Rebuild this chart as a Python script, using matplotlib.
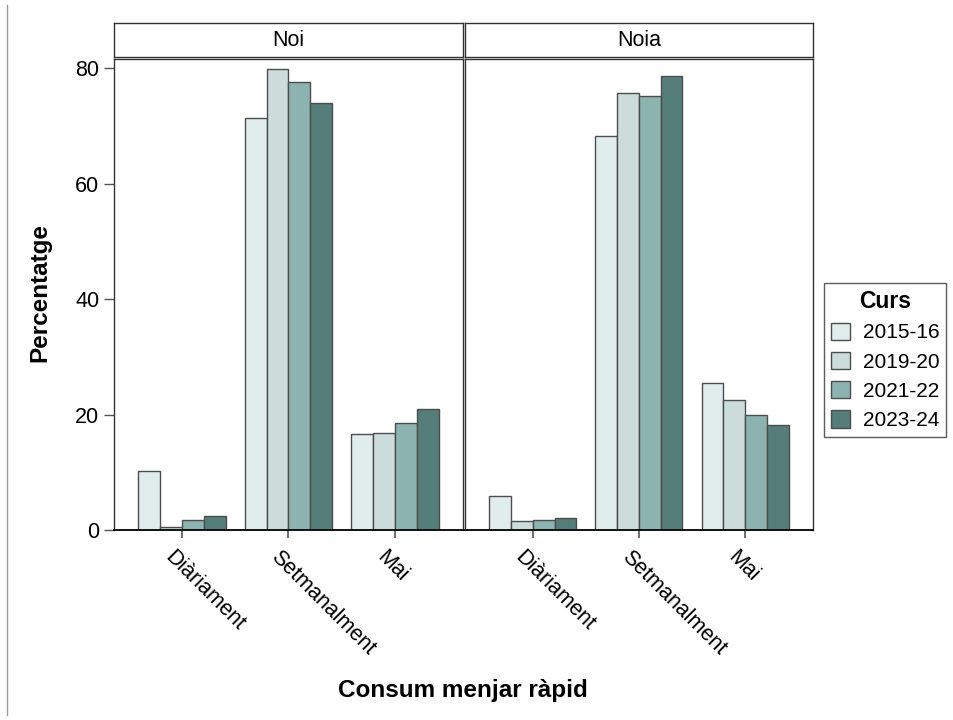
import numpy as np
import matplotlib
matplotlib.use('Agg')
import matplotlib.pyplot as plt
import matplotlib.transforms as mtransforms
from matplotlib.patches import Patch
from matplotlib.lines import Line2D

plt.rcParams['font.family'] = ['Liberation Sans', 'DejaVu Sans']

categories = ['Diàriament', 'Setmanalment', 'Mai']
courses = ['2015-16', '2019-20', '2021-22', '2023-24']
colors = ['#e1eded', '#cbdcdb', '#8db3b0', '#557d7a']
panels = ['Noi', 'Noia']

# percentages per course, order of categories
noi = {
    '2015-16': [10.3, 71.3, 16.6],
    '2019-20': [0.6, 79.8, 16.8],
    '2021-22': [1.7, 77.5, 18.5],
    '2023-24': [2.5, 74.0, 21.0],
}
noia = {
    '2015-16': [5.9, 68.3, 25.5],
    '2019-20': [1.5, 75.7, 22.5],
    '2021-22': [1.8, 75.1, 19.9],
    '2023-24': [2.0, 78.7, 18.2],
}
data = [noi, noia]

fig = plt.figure(figsize=(9.54, 7.2), dpi=100)

W, H = 954, 720
def px(x0, y0, x1, y1):
    return [x0 / W, 1 - y1 / H, (x1 - x0) / W, (y1 - y0) / H]

panel_px = [(114, 463), (465, 813)]
x = np.arange(len(categories))
bw = 0.205
# label anchor: a bit left of the tick and below it
shift = mtransforms.ScaledTranslation(-7 / 100, -17 / 100, fig.dpi_scale_trans)

for i, (name, d) in enumerate(zip(panels, data)):
    x0, x1 = panel_px[i]
    ax = fig.add_axes(px(x0, 59, x1, 530))
    for j, c in enumerate(courses):
        ax.bar(x + (j - 1.5) * bw, d[c], bw, color=colors[j],
               edgecolor='#4d4d4d', linewidth=1.0, zorder=2)
    ax.set_xlim(-0.64, 2.64)
    ax.set_ylim(0, 81.56)
    ax.set_yticks([0, 20, 40, 60, 80])
    ax.set_xticks(x)
    ax.set_xticklabels([])
    for xi, cat in zip(x, categories):
        ax.text(xi, 0, cat, rotation=-45, ha='left', va='top',
                rotation_mode='anchor', fontsize=15.5,
                transform=ax.get_xaxis_transform() + shift)
    ax.tick_params(axis='x', length=6, width=1.2, color='#555555')
    ax.tick_params(axis='y', length=7, width=1.0, color='#555555', labelsize=15.5)
    for s in ax.spines.values():
        s.set_color('#333333')
        s.set_linewidth(1.0)
    ax.spines['bottom'].set_color('#111111')
    ax.spines['bottom'].set_linewidth(1.4)
    if i > 0:
        ax.tick_params(axis='y', left=False, labelleft=False)

    # strip header
    sx = fig.add_axes(px(x0, 23, x1, 57))
    sx.set_xticks([])
    sx.set_yticks([])
    for s in sx.spines.values():
        s.set_color('#333333')
        s.set_linewidth(1.0)
    sx.text(0.5, 0.5, name, ha='center', va='center', fontsize=15.5,
            transform=sx.transAxes)

fig.text(40 / W, 1 - 293 / H, 'Percentatge', rotation=90, ha='center',
         va='center', fontsize=17.5, fontweight='bold')
fig.text(463 / W, 1 - 690 / H, 'Consum menjar ràpid', ha='center',
         va='center', fontsize=17.5, fontweight='bold')

handles = [Patch(facecolor=colors[j], edgecolor='#4d4d4d', label=c)
           for j, c in enumerate(courses)]
leg = fig.legend(handles=handles, title='Curs', loc='upper left',
                 bbox_to_anchor=(824 / W, 1 - 283 / H), fontsize=15,
                 title_fontsize=16.5, frameon=True, fancybox=False,
                 edgecolor='#333333', handlelength=0.9, handleheight=0.9,
                 handletextpad=0.6, borderpad=0.35, labelspacing=0.45,
                 borderaxespad=0)
leg.get_title().set_fontweight('bold')
leg.get_frame().set_linewidth(1.0)

fig.add_artist(Line2D([7 / W, 7 / W], [1 - 715 / H, 1 - 5 / H],
                      color='#999999', linewidth=1.0))

fig.savefig('out.png', dpi=100)
